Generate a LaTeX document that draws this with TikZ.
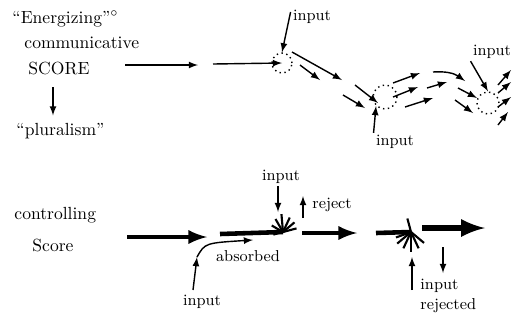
\documentclass[tikz,border=0pt]{standalone}
\usetikzlibrary{arrows,calc}

\begin{document}
\begin{tikzpicture}[>=latex,thick,x=0.02cm,y=-0.02cm]

\tikzset{
	lab/.style={inner sep=1pt},
	inlab/.style={inner sep=1pt,font=\small},
	hub/.style={circle,draw,dotted,inner sep=0pt},
	fat/.style={line width=2.6pt},
}

\useasboundingbox (0,0) rectangle (520,326);

% upper score
\node[lab,anchor=west] (energ) at (10,19) {``Energizing''$^\circ$};
\node[lab,anchor=west] (comm) at (22,43) {communicative};
\node[lab,anchor=west] (score) at (26,68) {SCORE};
\node[lab,anchor=west] (plur) at (14,131) {``pluralism''};

\draw[->,shorten <=6pt,shorten >=3pt] (score.south -| 53,0)--(plur.north -| 53,0);

\node[hub,minimum size=0.4cm] (h1) at (282,63) {};
\node[hub,minimum size=0.48cm] (h2) at (385,97) {};
\node[hub,minimum size=0.44cm] (h3) at (488,103) {};

\coordinate (a1) at (125,65);
\coordinate (a2) at (198,65);
\coordinate (a3) at (213,64);
\draw[->] (a1)--(a2);
\draw[->] (a3)--(h1.center);

\node[inlab] (in1) at (312,17) {input};
\node[inlab] (in4) at (395,142) {input};
\node[inlab] (in5) at (492,52) {input};
\draw[->] (in1.west |- 0,12)--(h1.north);
\draw[->] (in4.north west)--(h2.south west);
\draw[->] (in5.south west)--(h3.north);

% stream of arrows between the hubs
\foreach \p/\q in {
	{(292,52)}/{(342,80)}, {(300,65)}/{(320,80)},
	{(355,85)}/{(378,103)}, {(343,95)}/{(365,108)},
	{(393,83)}/{(420,73)}, {(393,97)}/{(418,87)},
	{(405,107)}/{(433,98)}, {(427,88)}/{(447,82)},
	{(458,88)}/{(477,98)}, {(455,100)}/{(473,113)},
	{(498,85)}/{(511,70)}, {(498,93)}/{(511,82)},
	{(498,107)}/{(511,97)}, {(498,125)}/{(508,112)}}
	\draw[->] \p--\q;
\draw[->] (433,72) to[bend left=20] (465,81);

% lower score
\node[lab,anchor=west] (ctrl) at (12,215) {controlling};
\node[lab,anchor=west] (cscore) at (30,245) {Score};

\coordinate (b1) at (127,237);
\coordinate (b2) at (207,237);
\coordinate (b3) at (220,234);
\coordinate (s1) at (283,232);
\coordinate (b4) at (302,233);
\coordinate (b5) at (357,233);
\coordinate (b6) at (376,233);
\coordinate (s2) at (411,232);
\coordinate (b7) at (422,228);
\coordinate (b8) at (485,228);

\draw[->,fat] (b1)--(b2);
\draw[fat] (b3)--(s1);
\draw[->,fat] (b4)--(b5);
\draw[fat] (b6)--(s2);
\draw[->,line width=3.6pt] (b7)--(b8);

\foreach \a/\l in {-15/14,-40/15,-65/16,-95/18,-120/15,-150/13,165/10}
	\draw[line width=1.2pt] (s1)--++(\a:\l);
\foreach \a/\l in {160/16,140/18,115/18,90/20,65/18,40/17,-105/14}
	\draw[line width=1.2pt] (s2)--++(\a:\l);

\node[inlab] (absorb) at (248,256) {absorbed};
\node[inlab] (in2) at (202,302) {input};
\node[inlab] (in3) at (281,177) {input};
\node[inlab,anchor=west] (rej) at (310,205) {reject};
\node[inlab,anchor=north west,align=left] (rejd) at (418,277) {input\\rejected};

\coordinate (c1) at (197,257);
\coordinate (c2) at (253,240);
\draw[->] (c1) .. controls (205,243) .. (c2);
\draw[->] (193,290)--(c1);
\draw[->] (in3.south -| 278,0)--(278,212);
\draw[->] (rej.west |- 0,218) ++(-7,0)--++(0,-22);
\draw[->] (412,290)--(412,257);
\draw[->] (443,247)--(443,273);

\end{tikzpicture}
\end{document}
